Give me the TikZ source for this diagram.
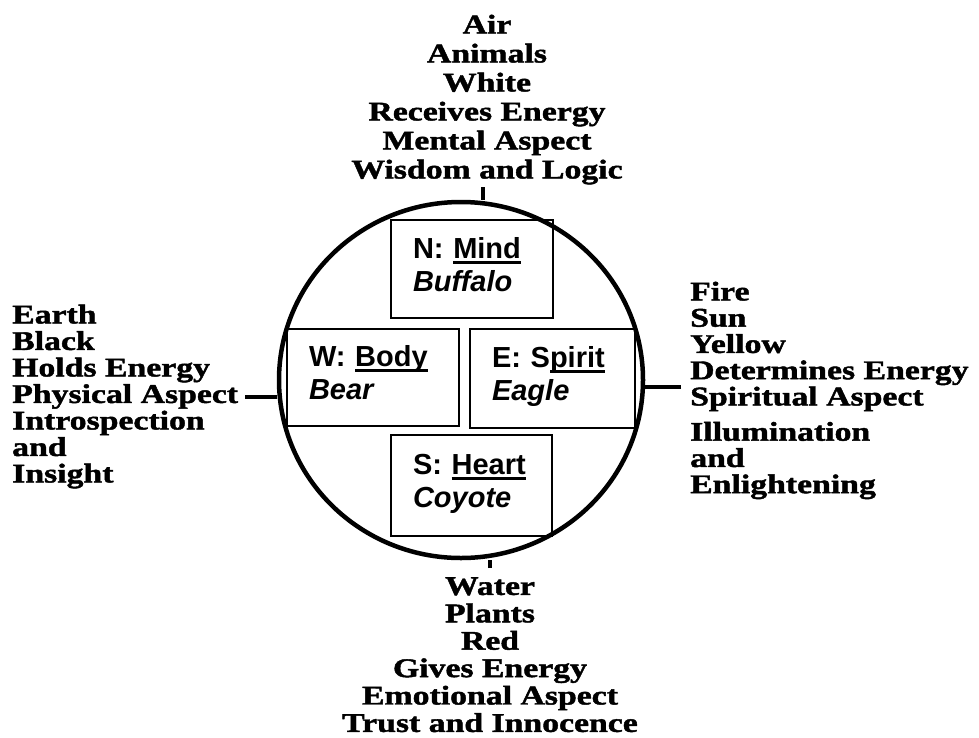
\documentclass[tikz,border=0pt]{standalone}
\usepackage{fontspec}
\usetikzlibrary{shapes.geometric}
\newfontfamily\loreface[FakeStretch=1.25,FakeBold=1.6]{Liberation Serif}
\newfontfamily\cardface{Liberation Sans}
\newcommand{\uword}[1]{\setbox0\hbox{#1}\rlap{\rule[-5.5pt]{\wd0}{3pt}}\box0}
\newcommand{\lowstrut}{\rule[-10pt]{0pt}{10pt}}

\begin{document}
\begin{tikzpicture}[x=1pt,y=-1pt,
	lore/.style={font=\loreface\bfseries\fontsize{27}{#1}\selectfont,inner sep=0pt},
	lore/.default=27,
	card/.style={draw,line width=1.3pt,font=\cardface\bfseries\fontsize{29}{33}\selectfont,align=left,inner xsep=22pt,inner ysep=0pt,text width=#1},
	tick/.style={line width=4.5pt}]
\useasboundingbox (0,0) rectangle (979,737);

\node[draw,ellipse,line width=4.5pt,minimum width=364pt,minimum height=356pt,inner sep=0pt] (wheel) at (461,380) {};

\node[card=118pt,minimum height=98pt]   (mind)   at (472,269)     {N: \uword{Mind}\\\textit{Buffalo}\lowstrut};
\node[card=128pt,minimum height=97pt]   (body)   at (373,377.5)   {W: \uword{Body}\\\textit{Bear}\lowstrut};
\node[card=121pt,minimum height=99pt]   (spirit) at (552.5,378.5) {E: S\uword{pirit}\\\textit{Eagle}\lowstrut};
\node[card=117pt,minimum height=101pt]  (heart)  at (471.5,485.5) {S: \uword{Heart}\\\textit{Coyote}\lowstrut};

\node[lore=29,align=center,anchor=north]    (air)   at (487,14.5)  {Air\\Animals\\White\\Receives Energy\\Mental Aspect\\Wisdom and Logic};
\node[lore=27.4,align=center,anchor=north]  (water) at (490,577)   {Water\\Plants\\Red\\Gives Energy\\Emotional Aspect\\Trust and Innocence};
\node[lore=26.5,align=left,anchor=north west] (earth) at (12,304.5) {Earth\\Black\\Holds Energy\\Physical Aspect\\Introspection\\and\\Insight};
\node[lore=26.25,align=left,anchor=north west] (fire) at (690,281.5) {Fire\\Sun\\Yellow\\Determines Energy\\Spiritual Aspect\\[9pt]Illumination\\and\\Enlightening};

\coordinate (tn) at (483,187);
\coordinate (ts) at (490,568);
\coordinate (tw) at (245,397);
\coordinate (te) at (681,387);
\draw[tick] (tn) -- (tn |- wheel.north);
\draw[tick] (ts) -- (ts |- wheel.south);
\draw[tick] (tw) -- (tw -| wheel.west);
\draw[tick] (te) -- (te -| wheel.east);
\end{tikzpicture}
\end{document}
